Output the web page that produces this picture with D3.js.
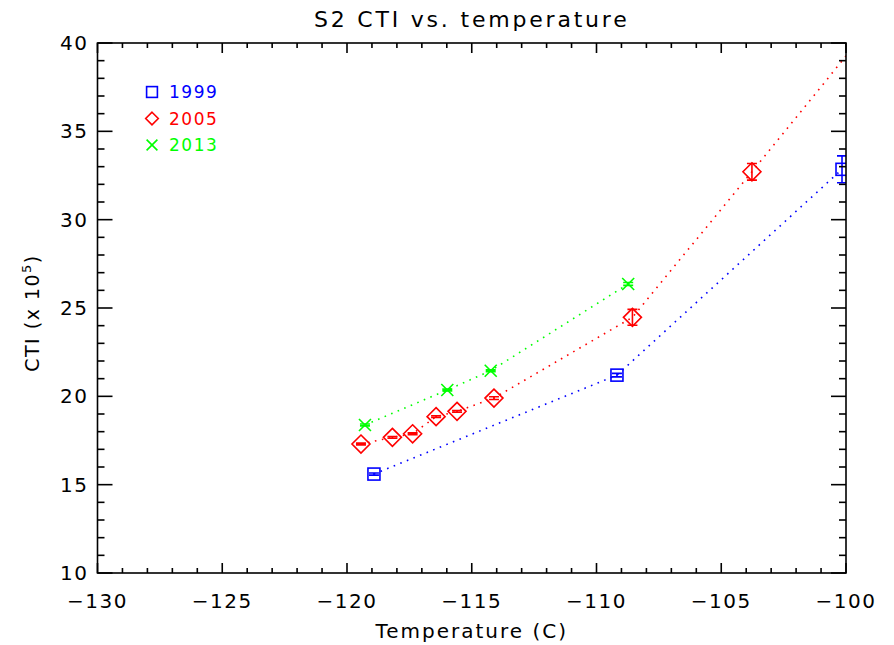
<!DOCTYPE html>
<html>
<head>
<meta charset="utf-8">
<script src="https://cdn.jsdelivr.net/npm/d3@7"></script>
<style>
  body { margin: 0; background: #fff; }
  svg { font-family: "DejaVu Sans", sans-serif; }
</style>
</head>
<body>
<svg id="chart"></svg>
<script>
// data
const temp1999 = [-118.92, -109.18, -100.16];
const cti1999 = [15.6, 21.2, 32.85];
const err1999 = [0.06, 0.1, 0.76];

const temp2005 = [-119.44, -118.18, -117.37, -116.43, -115.59, -114.11, -108.56, -103.77, -99.0];
const cti2005 = [17.3, 17.68, 17.88, 18.85, 19.15, 19.9, 24.47, 32.71, 41.0];
const err2005 = [0.05, 0.05, 0.05, 0.05, 0.05, 0.08, 0.45, 0.47, 0.3];

const temp2013 = [-119.28, -115.98, -114.24, -108.73];
const cti2013 = [18.38, 20.36, 21.45, 26.36];
const err2013 = [0.05, 0.05, 0.05, 0.08];

const xTicks = [-130, -125, -120, -115, -110, -105, -100];
const yTicks = [10, 15, 20, 25, 30, 35, 40];

const width = 894, height = 645;
const margin = { left: 97.5, right: 48, top: 43, bottom: 72 };

const svg = d3.select('#chart').attr('width', width).attr('height', height);

const x = d3.scaleLinear().domain([-130, -100]).range([margin.left, width - margin.right]);
const y = d3.scaleLinear().domain([10, 40]).range([height - margin.bottom, margin.top]);

svg.append('defs').append('clipPath').attr('id', 'clip')
  .append('rect')
  .attr('x', x(-130)).attr('y', y(40))
  .attr('width', x(-100) - x(-130)).attr('height', y(10) - y(40));

const plot = svg.append('g').attr('clip-path', 'url(#clip)');

const series = [
  { name: '1999', color: '#0000ff', t: temp1999, v: cti1999, e: err1999, sym: 'square' },
  { name: '2005', color: '#ff0000', t: temp2005, v: cti2005, e: err2005, sym: 'diamond' },
  { name: '2013', color: '#00ff00', t: temp2013, v: cti2013, e: err2013, sym: 'x' }
];

const line = d3.line().x(d => x(d[0])).y(d => y(d[1]));

function drawSymbol(g, sym, cx, cy, color, k = 1) {
  if (sym === 'square') {
    const h = 6 * k;
    g.append('rect').attr('x', cx - h).attr('y', cy - h).attr('width', 2 * h).attr('height', 2 * h)
      .attr('fill', 'none').attr('stroke', color).attr('stroke-width', 1.6);
  } else if (sym === 'diamond') {
    const h = 9 * k;
    g.append('path').attr('d', `M${cx},${cy - h}L${cx + h},${cy}L${cx},${cy + h}L${cx - h},${cy}Z`)
      .attr('fill', 'none').attr('stroke', color).attr('stroke-width', 1.6);
  } else {
    const h = 6 * k;
    g.append('path').attr('d', `M${cx - h},${cy - h}L${cx + h},${cy + h}M${cx - h},${cy + h}L${cx + h},${cy - h}`)
      .attr('fill', 'none').attr('stroke', color).attr('stroke-width', 1.6);
  }
}

series.forEach(s => {
  const pts = s.t.map((t, i) => [t, s.v[i], s.e[i]]);
  plot.append('path')
    .attr('d', line(pts))
    .attr('fill', 'none')
    .attr('stroke', s.color)
    .attr('stroke-width', 1.6)
    .attr('stroke-dasharray', '1.6,5.5');

  pts.forEach(p => {
    const cx = x(p[0]), cy = y(p[1]);
    drawSymbol(plot, s.sym, cx, cy, s.color);
    // error bar
    const y1 = y(p[1] + p[2]), y2 = y(p[1] - p[2]);
    plot.append('path')
      .attr('d', `M${cx},${y1}L${cx},${y2}M${cx - 5},${y1}L${cx + 5},${y1}M${cx - 5},${y2}L${cx + 5},${y2}`)
      .attr('fill', 'none').attr('stroke', s.color).attr('stroke-width', 1.6);
  });
});

// axes box with ticks on all four sides
const axisG = svg.append('g').attr('stroke', '#000').attr('stroke-width', 1.6).attr('fill', 'none');
axisG.append('rect')
  .attr('x', x(-130)).attr('y', y(40))
  .attr('width', x(-100) - x(-130)).attr('height', y(10) - y(40));

d3.range(-130, -99, 1).forEach(v => {
  const major = v % 5 === 0;
  const len = major ? 10 : 5;
  axisG.append('line').attr('x1', x(v)).attr('x2', x(v)).attr('y1', y(10)).attr('y2', y(10) - len);
  axisG.append('line').attr('x1', x(v)).attr('x2', x(v)).attr('y1', y(40)).attr('y2', y(40) + len);
});
d3.range(10, 41, 1).forEach(v => {
  const major = v % 5 === 0;
  const len = major ? 15 : 7;
  axisG.append('line').attr('x1', x(-130)).attr('x2', x(-130) + len).attr('y1', y(v)).attr('y2', y(v));
  axisG.append('line').attr('x1', x(-100)).attr('x2', x(-100) - len).attr('y1', y(v)).attr('y2', y(v));
});

const fmt = v => (v < 0 ? '\u2212' + Math.abs(v) : String(v));

svg.append('g').selectAll('text').data(xTicks).enter().append('text')
  .attr('x', d => x(d)).attr('y', height - margin.bottom + 35)
  .attr('text-anchor', 'middle').attr('font-size', 20).attr('letter-spacing', 1.5).text(fmt);

svg.append('g').selectAll('text').data(yTicks).enter().append('text')
  .attr('x', x(-130) - 9).attr('y', d => y(d) + 7)
  .attr('text-anchor', 'end').attr('font-size', 20).attr('letter-spacing', 1.5).text(d => d);

svg.append('text').attr('x', (x(-130) + x(-100)) / 2).attr('y', 27)
  .attr('text-anchor', 'middle').attr('font-size', 22).attr('letter-spacing', 2.8).text('S2 CTI vs. temperature');

svg.append('text').attr('x', (x(-130) + x(-100)) / 2).attr('y', 638)
  .attr('text-anchor', 'middle').attr('font-size', 20).attr('letter-spacing', 2).text('Temperature (C)');

const yl = svg.append('text')
  .attr('transform', `translate(39,${(y(10) + y(40)) / 2 + 5}) rotate(-90)`)
  .attr('text-anchor', 'middle').attr('font-size', 19).attr('letter-spacing', 1.5);
yl.append('tspan').text('CTI (x 10');
yl.append('tspan').attr('font-size', 13).attr('dy', -8).text('5');
yl.append('tspan').attr('dy', 8).text(')');

// legend
const legend = svg.append('g');
series.forEach((s, i) => {
  const ly = 92 + i * 26.5;
  drawSymbol(legend, s.sym, 152, ly, s.color, s.sym === 'diamond' ? 0.7 : 0.9);
  legend.append('text').attr('x', 169).attr('y', ly + 6)
    .attr('fill', s.color).attr('font-size', 17).attr('letter-spacing', 1.5).text(s.name);
});
</script>
</body>
</html>
